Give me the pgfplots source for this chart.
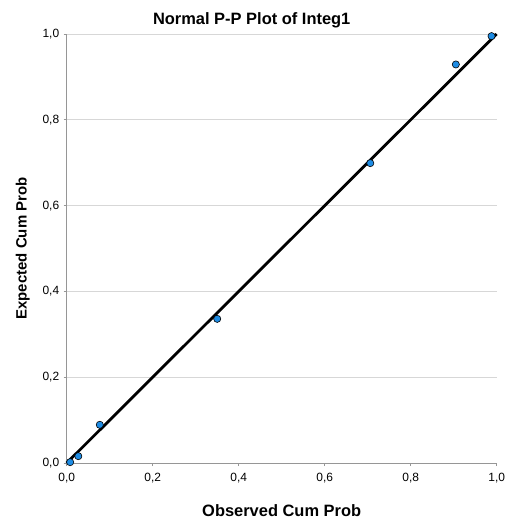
\documentclass[border=0pt]{standalone}
\usepackage{pgfplots}
\pgfplotsset{compat=1.18}
\usepackage{fontspec}
\setmainfont{Liberation Sans}
\definecolor{ptblue}{RGB}{30,140,228}
\definecolor{axgray}{RGB}{150,150,150}
\definecolor{gridgray}{RGB}{215,215,215}
\begin{document}
\begin{tikzpicture}[x=1bp,y=1bp]
\path[use as bounding box] (-66.7,-57) rectangle (455.3,463);
\begin{axis}[
  at={(0,0)}, anchor=south west,
  scale only axis, width=430bp, height=429bp,
  xmin=0, xmax=1, ymin=0, ymax=1,
  axis x line*=bottom, axis y line*=left,
  axis line style={axgray, line width=0.8pt, -},
  xtick={0,0.2,...,1.0}, ytick={0,0.2,...,1.0},
  ymajorgrids, grid style={gridgray, line width=0.8pt},
  tick style={axgray, line width=0.6pt},
  tick align=outside, major tick length=3bp,
  xticklabel style={font=\fontsize{12}{14}\selectfont, yshift=-4bp},
  yticklabel style={font=\fontsize{12}{14}\selectfont, xshift=-1bp},
  /pgf/number format/.cd, fixed, fixed zerofill, precision=1, use comma, assume math mode=true,
  /pgfplots/.cd,
  title={\bfseries Normal P-P Plot of Integ1},
  title style={font=\fontsize{16.5}{18}\selectfont, xshift=-30bp, yshift=-3bp},
  xlabel={\bfseries Observed Cum Prob},
  ylabel={\bfseries Expected Cum Prob},
  xlabel style={font=\fontsize{16.5}{18}\selectfont, yshift=-14bp},
  ylabel style={font=\fontsize{15}{17}\selectfont, yshift=6bp},
  clip=false,
]
\addplot[black, line width=2.8pt, no marks] coordinates {(0,0) (1,1)};
\addplot[only marks, mark=*, mark size=3.6bp,
  mark options={fill=ptblue, draw=black, line width=0.6pt}]
  coordinates {
  (0.008,0.002)
  (0.027,0.016)
  (0.077,0.089)
  (0.350,0.336)
  (0.706,0.699)
  (0.905,0.929)
  (0.988,0.995)
};
\end{axis}
\end{tikzpicture}
\end{document}
